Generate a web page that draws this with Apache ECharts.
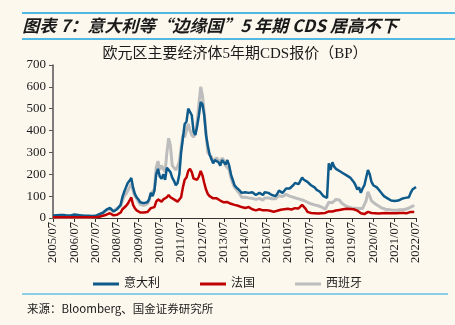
<!DOCTYPE html>
<html><head><meta charset="utf-8">
<script src="https://cdn.jsdelivr.net/npm/echarts@6/dist/echarts.min.js"></script>
<style>html,body{margin:0;padding:0;background:#FCF8EE;}#c{width:455px;height:325px;}</style>
</head><body><div id="c"></div>
<script>
// Monthly categories 2005/07 .. 2022/07
const startYear = 2005, startMonth = 7, nMonths = 205;
const categories = [];
for (let i = 0; i < nMonths; i++) {
  const t = (startMonth - 1) + i;
  const y = startYear + Math.floor(t / 12), m = (t % 12) + 1;
  categories.push(y + '/' + (m < 10 ? '0' + m : m));
}
const seriesNames = ['意大利', '法国', '西班牙'];
const italy = [
  12,12,13,13,14,14,14,13,12,12,12,13,
  16,15,14,13,12,11,10,10,10,9,9,9,
  10,14,18,20,24,30,38,45,46,38,30,34,
  40,45,60,95,120,140,160,170,183,140,110,95,
  85,72,70,68,70,72,85,115,100,125,200,225,
  190,180,200,175,230,235,210,185,170,150,160,200,
  300,365,430,440,500,505,470,395,380,420,470,530,
  520,470,380,330,290,270,250,265,270,255,240,265,
  270,245,265,240,200,175,150,140,135,125,115,120,
  118,110,115,120,118,112,105,110,115,108,105,118,
  120,115,110,105,100,100,110,125,120,115,125,135,
  140,135,140,150,160,165,155,170,185,175,180,165,
  160,150,145,140,130,125,120,110,100,95,92,250,
  220,255,235,225,220,215,210,205,200,195,190,185,
  175,165,150,130,140,115,135,150,185,220,200,165,
  150,145,140,130,120,110,100,95,90,85,80,78,
  78,76,80,85,88,86,92,90,95,115,130,135,142
];
const france = [
  3,3,3,3,3,3,3,3,3,3,3,3,
  3,3,3,3,3,3,3,3,3,3,3,3,
  4,5,6,8,10,12,15,18,22,16,12,14,
  15,17,25,40,45,55,65,80,94,60,45,35,
  30,25,24,25,26,27,30,45,40,50,75,85,
  80,75,85,80,95,105,95,90,85,80,75,80,
  95,140,175,185,215,225,210,180,175,175,190,215,
  195,160,130,110,100,95,90,95,90,85,80,75,
  72,75,73,68,65,62,60,58,56,55,50,48,
  46,47,50,45,40,38,35,37,40,36,35,38,
  36,34,33,30,29,30,33,40,38,36,40,45,
  42,38,39,40,45,48,44,50,60,55,42,28,
  24,23,22,22,22,21,21,22,23,23,25,30,
  30,30,32,34,35,37,38,40,41,42,42,41,
  41,40,38,34,30,22,19,18,22,28,25,23,
  22,22,22,21,21,22,22,23,22,22,23,22,
  22,22,23,23,22,23,24,22,25,28,25,27,28
];
const spain = [
  3,3,3,3,3,3,3,3,3,3,3,3,
  4,4,4,4,4,4,4,4,4,4,4,4,
  5,8,12,18,22,28,35,40,42,35,30,35,
  45,48,55,80,100,110,125,140,157,125,100,90,
  75,62,60,58,62,65,80,110,105,132,230,260,
  220,240,225,210,300,365,330,240,230,220,235,260,
  320,380,370,370,430,400,380,370,390,440,520,600,
  560,480,390,300,290,280,260,260,275,265,250,275,
  265,240,245,220,185,160,140,130,120,110,95,98,
  95,90,92,95,90,88,85,88,90,85,82,92,
  95,92,90,88,86,88,92,102,100,98,102,108,
  106,100,98,95,92,90,85,85,88,80,75,72,
  70,65,62,60,58,56,54,50,48,40,42,72,
  68,70,78,85,90,82,70,62,58,55,50,48,
  46,45,45,44,43,42,44,50,80,120,100,78,
  70,65,60,55,50,45,42,40,38,38,37,36,
  36,35,36,38,37,38,40,42,45,50,52,58,62
];
const yTicks = {min: 0, max: 700, interval: 100};
const titleText = '图表 7：意大利等“边缘国”5 年期 CDS 居高不下';

const serif = "'Liberation Serif','Times New Roman','Noto Sans CJK SC',serif";
const chart = echarts.init(document.getElementById('c'), null, {renderer: 'canvas'});
const isJuly = (i) => i % 12 === 0;
chart.setOption({
  backgroundColor: '#FCF8EE',
  animation: false,
  title: [
    {text: '欧元区主要经济体5年期CDS报价（BP）', left: 230, top: 42, textAlign: 'center',
     textStyle: {fontSize: 15, fontWeight: 'normal', color: '#1a1a1a', fontFamily: serif}},
    {text: '来源：Bloomberg、国金证券研究所', left: 22, top: 298,
     textStyle: {fontSize: 11.5, fontWeight: 'normal', color: '#1a1a1a',
       fontFamily: "'Noto Sans CJK SC','Liberation Sans',sans-serif"}}
  ],
  graphic: [
    {type: 'line', shape: {x1: 22, y1: 13, x2: 455, y2: 13}, style: {stroke: '#19A3E0', lineWidth: 1.5}},
    {type: 'line', shape: {x1: 22, y1: 39, x2: 455, y2: 39}, style: {stroke: '#19A3E0', lineWidth: 1.5}},
    {type: 'line', shape: {x1: 22, y1: 294, x2: 448, y2: 294}, style: {stroke: '#19A3E0', lineWidth: 1.2}}
  ],
  legend: {
    data: seriesNames, top: 273, left: 'center', itemGap: 40, itemWidth: 26, itemHeight: 3,
    icon: 'rect',
    textStyle: {fontSize: 12, color: '#1a1a1a', fontFamily: serif}
  },
  grid: {left: 53, right: 39, top: 65, bottom: 107, containLabel: false},
  xAxis: {
    type: 'category', data: categories, boundaryGap: false,
    axisLine: {lineStyle: {color: '#333', width: 1.2}},
    axisTick: {interval: (i) => isJuly(i), length: 4, lineStyle: {color: '#333'}},
    axisLabel: {interval: (i) => isJuly(i), rotate: 90, fontSize: 12.5, color: '#1a1a1a',
      fontFamily: serif, margin: 4}
  },
  yAxis: {
    type: 'value', min: yTicks.min, max: yTicks.max, interval: yTicks.interval,
    splitLine: {show: false},
    axisLine: {show: true, lineStyle: {color: '#555', width: 1.5}},
    axisTick: {show: true, length: 4, lineStyle: {color: '#555'}},
    axisLabel: {fontSize: 13, color: '#1a1a1a', fontFamily: serif, margin: 7}
  },
  series: [
    {name: seriesNames[2], type: 'line', data: spain, showSymbol: false, z: 1,
     lineStyle: {color: '#BDBDBD', width: 3}, itemStyle: {color: '#BDBDBD'}},
    {name: seriesNames[0], type: 'line', data: italy, showSymbol: false, z: 2,
     lineStyle: {color: '#0E5A8A', width: 2.5}, itemStyle: {color: '#0E5A8A'}},
    {name: seriesNames[1], type: 'line', data: france, showSymbol: false, z: 3,
     lineStyle: {color: '#C00000', width: 2.5}, itemStyle: {color: '#C00000'}}
  ]
});
// Italic-looking title (CJK fonts have no italic face, so slant it)
const titleEl = new echarts.graphic.Text({
  style: {text: titleText, x: 0, y: 0, fill: '#1a1a1a', fontSize: 17, fontWeight: 'bold',
    fontFamily: "'Noto Sans CJK SC','Liberation Sans',sans-serif", verticalAlign: 'middle'},
  x: 24, y: 26, z: 100
});
titleEl.skewX = -0.26;
titleEl.dirty();
chart.getZr().add(titleEl);
chart.getZr().refreshImmediately();
</script></body></html>
